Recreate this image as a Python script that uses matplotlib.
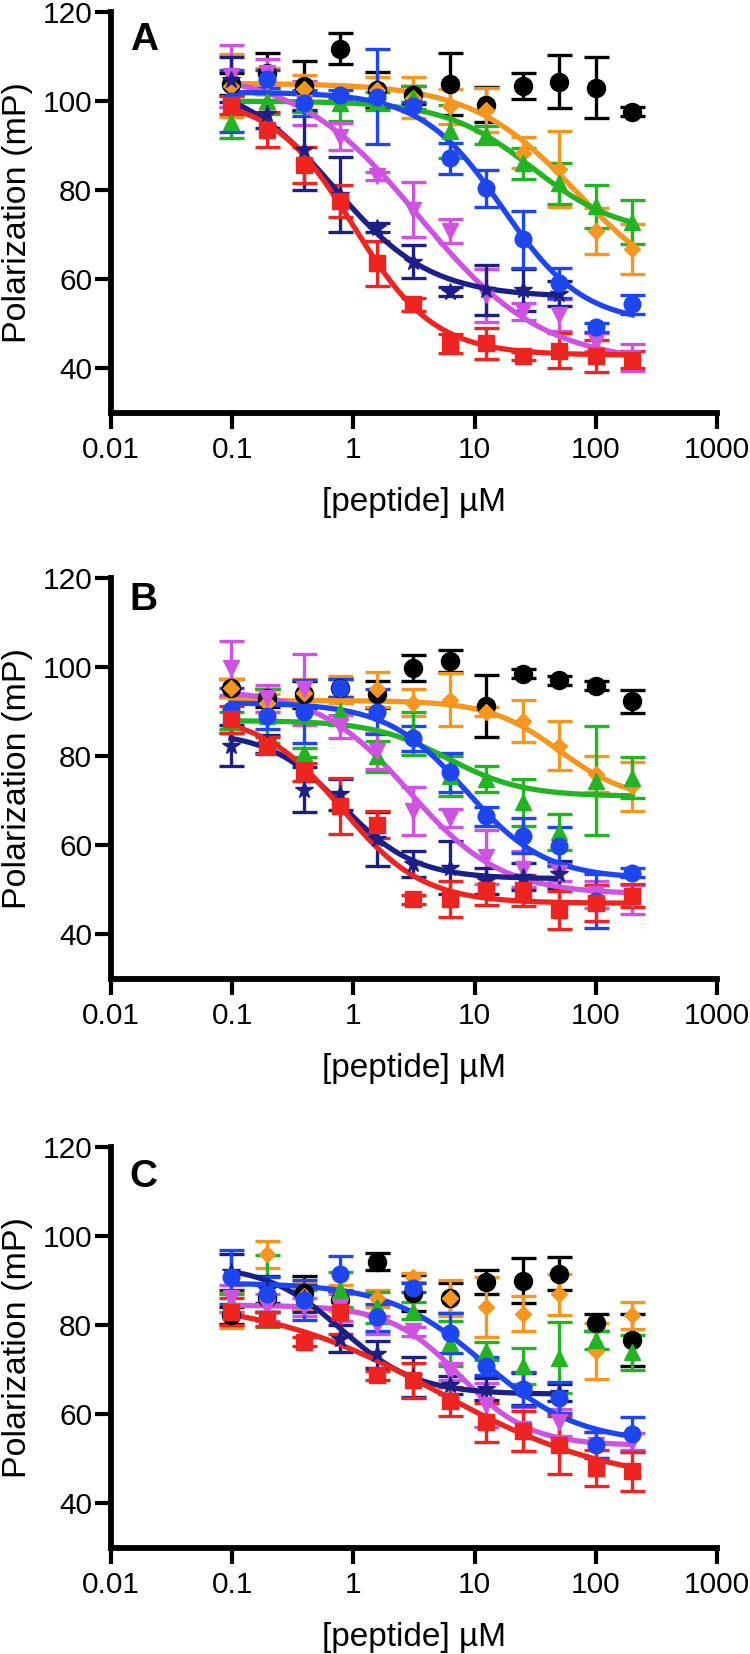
import numpy as np
import matplotlib
matplotlib.use('Agg')
import matplotlib.pyplot as plt

#%% DATA
conc = [0.0977, 0.1953, 0.3906, 0.7813, 1.5625, 3.125, 6.25, 12.5, 25, 50, 100, 200]
conc_navy = conc[:10]  # the star series stops at 50 uM

# panel A
A_black = [103.8, 106.2, 103.4, 111.8, 102.5, 101.4, 103.8, 99.2, 103.4, 104.4, 103.0, 97.6]
A_black_sd = [2.5, 4.5, 5.6, 3.5, 4.0, 2.0, 7.0, 4.0, 3.0, 6.0, 6.8, 1.0]
A_orange = [103.5, 104.5, 102.8, 101.6, 102.4, 100.8, 98.8, 98.0, 88.4, 84.8, 70.8, 66.8]
A_orange_sd = [7.0, 3.0, 3.0, 2.0, 3.0, 4.5, 4.0, 5.0, 3.5, 8.6, 5.2, 5.7]
A_green = [95.2, 100.0, 99.6, 99.6, 100.0, 100.8, 93.2, 92.4, 86.0, 81.6, 76.4, 72.8]
A_green_sd = [3.4, 3.0, 2.0, 4.0, 2.0, 2.5, 6.0, 2.0, 3.5, 4.6, 4.8, 4.9]
A_blue = [100.0, 105.0, 99.6, 101.4, 101.0, 98.8, 87.2, 80.4, 69.0, 59.2, 49.2, 54.4]
A_blue_sd = [7.0, 2.0, 3.0, 1.0, 10.7, 1.0, 3.5, 4.2, 6.4, 3.3, 1.0, 2.1]
A_navy = [104.8, 97.0, 89.0, 79.0, 71.6, 64.0, 57.2, 57.6, 57.6, 56.8]
A_navy_sd = [5.0, 3.0, 9.0, 8.4, 1.0, 3.8, 1.0, 5.6, 4.8, 2.8]
A_magenta = [105.6, 106.4, 99.6, 92.0, 83.2, 75.6, 70.8, 56.4, 52.8, 52.0, 46.0, 42.4]
A_magenta_sd = [7.0, 3.0, 5.0, 3.0, 1.0, 6.2, 2.7, 6.0, 2.0, 3.5, 2.0, 3.0]
A_red = [99.2, 93.6, 85.6, 77.6, 63.6, 54.4, 45.6, 45.6, 42.8, 44.0, 42.8, 42.0]
A_red_sd = [2.0, 4.0, 4.0, 3.6, 5.0, 1.5, 2.2, 3.4, 1.0, 4.0, 3.6, 2.0]
# fitted curves: (top, bottom, IC50, hill)
A_fits = {'orange': (104, 55, 70, 1.0), 'green': (100, 70, 30, 1.2),
          'blue': (102, 50, 17, 1.3), 'navy': (105, 56, 0.7, 1.1),
          'magenta': (107, 41, 3.5, 0.85), 'red': (101, 43, 1.0, 1.3)}

# panel B
B_black = [95.4, 93.0, 93.9, 95.4, 93.9, 99.8, 101.4, 91.3, 98.5, 97.0, 95.8, 92.3]
B_black_sd = [2.0, 2.0, 3.0, 2.0, 3.0, 3.0, 2.5, 7.0, 1.0, 1.0, 1.0, 2.5]
B_orange = [95.4, 92.0, 94.3, 95.0, 95.0, 92.0, 92.7, 90.0, 87.9, 82.4, 76.0, 73.3]
B_orange_sd = [2.0, 2.0, 3.0, 3.0, 4.0, 3.0, 6.0, 1.0, 4.7, 5.4, 4.0, 5.5]
B_green = [88.0, 89.0, 80.8, 90.0, 80.0, 85.1, 75.6, 74.9, 69.7, 63.0, 74.5, 75.2]
B_green_sd = [2.0, 6.0, 1.0, 3.0, 3.5, 4.8, 4.5, 3.0, 5.3, 4.0, 12.2, 4.6]
B_blue = [90.3, 89.1, 90.0, 95.4, 90.0, 84.0, 76.4, 66.5, 62.2, 59.8, 47.5, 53.9]
B_blue_sd = [5.0, 3.0, 7.0, 2.0, 5.0, 2.8, 4.4, 2.2, 4.0, 4.4, 6.0, 1.0]
B_navy = [82.4, 82.8, 72.5, 71.5, 61.4, 55.8, 55.0, 52.0, 53.0, 53.5]
B_navy_sd = [4.5, 2.0, 5.0, 3.5, 6.0, 3.0, 6.0, 3.0, 3.0, 3.0]
B_magenta = [99.8, 93.0, 95.0, 86.7, 81.2, 67.7, 66.1, 57.4, 54.7, 53.9, 49.0, 47.9]
B_magenta_sd = [6.0, 3.0, 8.0, 2.5, 4.0, 5.4, 2.0, 6.0, 4.0, 2.0, 3.0, 3.2]
B_red = [88.3, 82.4, 76.4, 68.9, 64.6, 47.9, 47.9, 49.9, 49.9, 45.5, 47.0, 48.7]
B_red_sd = [3.0, 2.0, 2.0, 6.3, 3.0, 1.0, 4.0, 3.2, 3.5, 4.2, 4.0, 2.6]
B_fits = {'orange': (92.5, 70, 50, 1.5), 'green': (88, 71, 6, 1.4),
          'blue': (92, 52.5, 8.5, 1.33), 'navy': (85.5, 52.5, 0.8, 1.45),
          'magenta': (95, 49, 2.9, 1.15), 'red': (89.5, 47, 0.8, 1.3)}

# panel C
C_black = [82.2, 86.0, 87.3, 85.7, 94.3, 87.3, 86.1, 89.6, 90.0, 91.6, 80.6, 76.7]
C_black_sd = [2.0, 3.0, 3.7, 2.0, 2.0, 4.0, 3.3, 2.7, 5.0, 3.7, 2.0, 5.8]
C_orange = [83.3, 95.9, 86.5, 86.1, 86.0, 90.8, 86.1, 84.1, 82.6, 86.9, 74.3, 82.2]
C_orange_sd = [4.0, 3.0, 3.0, 3.0, 2.0, 1.0, 4.0, 6.8, 4.0, 4.5, 6.3, 3.0]
C_green = [85.0, 87.7, 86.0, 88.0, 84.0, 83.3, 75.9, 74.3, 70.8, 72.7, 76.7, 73.9]
C_green_sd = [2.0, 8.0, 2.0, 4.0, 3.5, 2.0, 5.0, 2.0, 4.0, 8.0, 2.0, 4.0]
C_blue = [90.8, 86.9, 85.7, 91.6, 81.8, 88.4, 78.2, 70.8, 65.7, 63.7, 53.1, 55.5]
C_blue_sd = [6.0, 4.0, 4.5, 4.0, 3.0, 1.0, 4.5, 2.0, 3.8, 3.5, 3.0, 3.9]
C_navy = [92.0, 88.0, 86.0, 77.0, 73.5, 68.4, 66.5, 65.7, 65.7, 64.9]
C_navy_sd = [4.0, 3.0, 3.0, 3.0, 3.0, 4.5, 2.0, 2.5, 3.5, 2.0]
C_magenta = [86.0, 84.0, 84.0, 84.0, 80.0, 78.6, 69.6, 62.1, 56.7, 58.2, 53.1, 53.9]
C_magenta_sd = [3.0, 3.0, 2.0, 3.0, 2.0, 1.0, 2.0, 5.0, 5.0, 3.0, 3.0, 2.0]
C_red = [83.0, 81.4, 76.3, 83.0, 68.8, 67.6, 62.9, 58.2, 56.3, 53.1, 48.0, 47.2]
C_red_sd = [3.0, 1.5, 1.0, 5.0, 1.0, 4.0, 3.2, 4.3, 4.5, 6.5, 4.0, 4.3]
C_fits = {'blue': (89.5, 53.5, 12, 1.1), 'navy': (93.5, 64.5, 0.8, 1.4),
          'magenta': (84.5, 53, 7.5, 1.5), 'red': (86, 44, 5, 0.6)}

xticks = [0.01, 0.1, 1, 10, 100, 1000]
xtick_labels = ['0.01', '0.1', '1', '10', '100', '1000']
yticks = [40, 60, 80, 100, 120]

#%% STYLE
colors = {'black': '#000000', 'orange': '#f5961e', 'green': '#22b422',
          'blue': '#1e46f0', 'navy': '#1c1f86', 'magenta': '#d052e2', 'red': '#ee2420'}
markers = {'black': ('o', 13), 'orange': ('D', 8.5), 'green': ('^', 12),
           'blue': ('o', 12), 'navy': ('*', 13), 'magenta': ('v', 12), 'red': ('s', 11)}
order = ['black', 'orange', 'green', 'magenta', 'navy', 'blue', 'red']

plt.rcParams['font.family'] = ['Liberation Sans', 'DejaVu Sans']


def logistic(x, top, bottom, ic50, hill):
    return bottom + (top - bottom) / (1 + (x / ic50) ** hill)


def drawPanel(ax, data, fits, letter, letter_y):
    for name in order:
        y, sd = data[name]
        x = conc_navy if name == 'navy' else conc
        c = colors[name]
        m, ms = markers[name]
        ax.errorbar(x, y, yerr=sd, fmt='none', ecolor=c, elinewidth=2.4,
                    capsize=9, capthick=2.4, zorder=2)
        if name in fits:
            xs = np.logspace(np.log10(x[0]), np.log10(x[-1]), 300)
            ax.plot(xs, logistic(xs, *fits[name]), color=c, lw=3.8, zorder=3)
        ax.plot(x, y, linestyle='none', marker=m, ms=ms, color=c,
                markeredgecolor=c, zorder=4)

    ax.set_xscale('log')
    ax.set_xlim(0.01, 1000)
    ax.set_ylim(30, 120)
    ax.set_xticks(xticks)
    ax.set_xticklabels(xtick_labels)
    ax.set_yticks(yticks)
    ax.minorticks_off()
    ax.tick_params(axis='both', length=11.5, width=3, labelsize=21.5, direction='out')
    ax.tick_params(axis='x', pad=5)
    ax.tick_params(axis='y', pad=2)
    for side in ['top', 'right']:
        ax.spines[side].set_visible(False)
    for side in ['left', 'bottom']:
        ax.spines[side].set_linewidth(4.2)
    ax.set_ylabel('Polarization (mP)', fontsize=24.5)
    ax.set_xlabel('[peptide] µM', fontsize=24)
    ax.yaxis.set_label_coords(-0.155, 0.5)
    ax.xaxis.set_label_coords(0.5, -0.222)
    ax.xaxis.label.set_va('center')
    ax.yaxis.label.set_va('center')
    ax.text(0.031, letter_y, letter, transform=ax.transAxes, fontsize=28,
            fontweight='bold', va='baseline', ha='left')


#%% PLOT
fig = plt.figure(figsize=(7.5, 16.54), dpi=100)
H = 1654.0
left, width, height = 111 / 750, 606 / 750, 401 / H
axA = fig.add_axes([left, 1 - 413 / H, width, height])
axB = fig.add_axes([left, 1 - 979 / H, width, height])
axC = fig.add_axes([left, 1 - 1548 / H, width, height])

dataA = {'black': (A_black, A_black_sd), 'orange': (A_orange, A_orange_sd),
         'green': (A_green, A_green_sd), 'blue': (A_blue, A_blue_sd),
         'navy': (A_navy, A_navy_sd), 'magenta': (A_magenta, A_magenta_sd),
         'red': (A_red, A_red_sd)}
dataB = {'black': (B_black, B_black_sd), 'orange': (B_orange, B_orange_sd),
         'green': (B_green, B_green_sd), 'blue': (B_blue, B_blue_sd),
         'navy': (B_navy, B_navy_sd), 'magenta': (B_magenta, B_magenta_sd),
         'red': (B_red, B_red_sd)}
dataC = {'black': (C_black, C_black_sd), 'orange': (C_orange, C_orange_sd),
         'green': (C_green, C_green_sd), 'blue': (C_blue, C_blue_sd),
         'navy': (C_navy, C_navy_sd), 'magenta': (C_magenta, C_magenta_sd),
         'red': (C_red, C_red_sd)}

drawPanel(axA, dataA, A_fits, 'A', 0.905)
drawPanel(axB, dataB, B_fits, 'B', 0.920)
drawPanel(axC, dataC, C_fits, 'C', 0.900)

fig.savefig('out.png', dpi=100)
